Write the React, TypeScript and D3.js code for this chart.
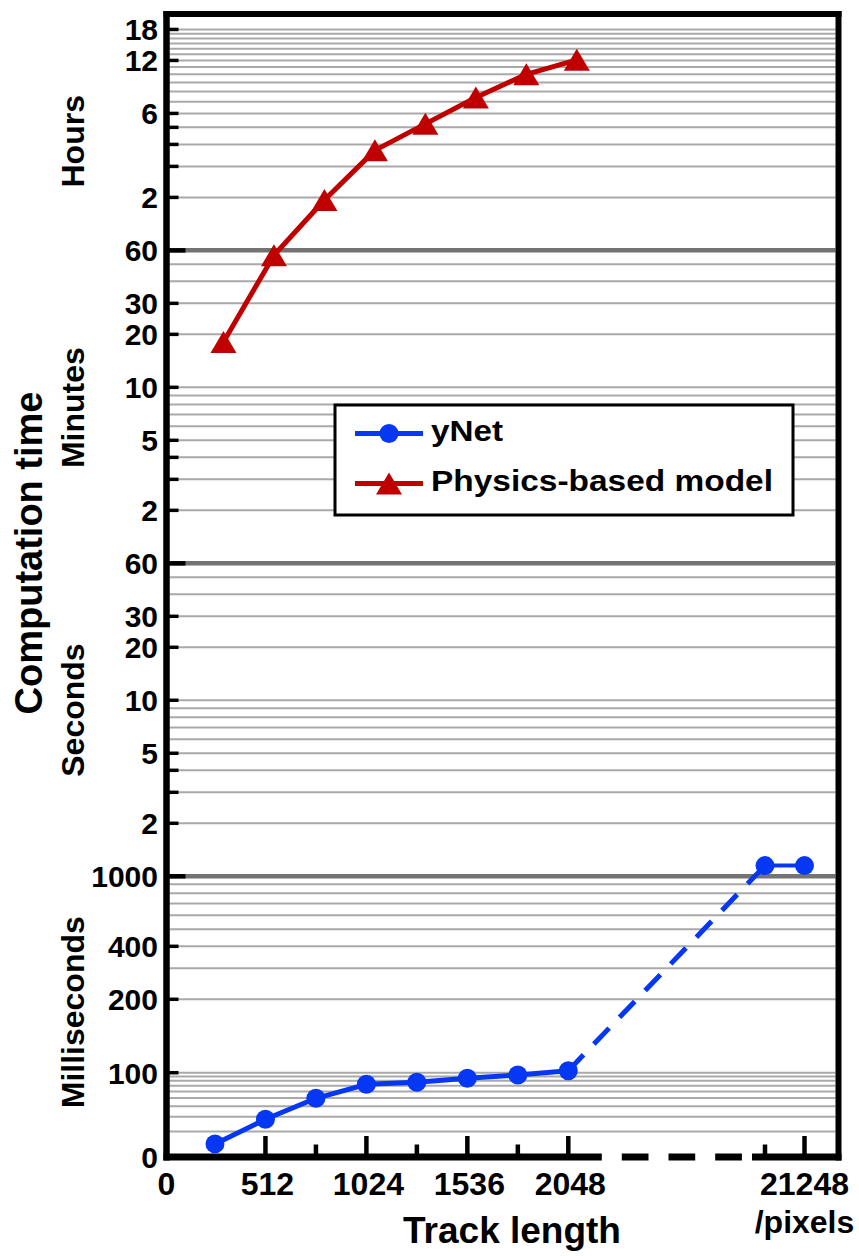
import React from "react";
import * as d3 from "d3";

// track length (pixels)
const trackLengths = [256, 512, 768, 1024, 1280, 1536, 1792, 2048];
const longTracks = [20992, 21248];

// yNet computation time, milliseconds
const ynetMs = [14.3, 28, 49.7, 72.8, 76.9, 85.9, 93.9, 101.9];
const ynetLongMs = [1150, 1150];

// physics-based model computation time, minutes
const physicsMin = [18.1, 56.3, 116, 222, 314, 443, 600, 726];

// x axis ticks
const xMajor = [512, 1024, 1536, 2048];
const xMinor = [768, 1280, 1792];
const xRightMajor = [21248];
const xRightMinor = [20992];
const xLabels = ["0", "512", "1024", "1536", "2048"];
const xLabelValues = [0, 512, 1024, 1536, 2048];

// y axis: grid, ticks and labels per unit
const msGrid = [20, 30, 40, 50, 60, 70, 80, 90, 100, 200, 300, 400, 500, 600, 700, 800, 900];
const msTicks = [100, 200, 400];
const msLabelValues = [10, 100, 200, 400];
const msLabelText = ["0", "100", "200", "400"];

const secGrid = [2, 3, 4, 5, 6, 7, 8, 9, 10, 20, 30, 40, 50];
const secTicks = [2, 3, 4, 5, 10, 20, 30];
const secLabels = [2, 5, 10, 20, 30];

const minGrid = [2, 3, 4, 5, 6, 7, 8, 9, 10, 20, 30, 40, 50];
const minTicks = [2, 3, 4, 5, 10, 20, 30];
const minLabels = [2, 5, 10, 20, 30];

const hourGrid = [2, 3, 4, 5, 6, 7, 8, 9, 10, 11, 12, 13, 14, 15, 16, 17, 18];
const hourTicks = [2, 3, 4, 5, 6, 12, 18];
const hourLabels = [2, 6, 12, 18];

// unit boundaries (ms) with their labels
const boundaryMs = [1000, 60000, 3600000];
const boundaryText = ["1000", "60", "60"];

const unitNames = ["Hours", "Minutes", "Seconds", "Milliseconds"];
const unitCenterMs = [15000000, 460000, 8800, 177];

const BLUE = "#0637f5";
const RED = "#c00000";
const FONT = "'Liberation Sans', Arial, Helvetica, sans-serif";

export default function App() {
  const W = 859;
  const H = 1256;
  const axisX = 166.5;
  const bottomY = 1157;
  const topY = 14;
  const rightX = 838.5;
  const pxDecade = 176;
  const y100 = bottomY - 84.3;
  const y200 = y100 - 73.4;
  const topMs = 200 * Math.pow(10, (y200 - topY) / pxDecade);

  const y = d3.scaleLog().domain([10, 100, 200, topMs]).range([bottomY, y100, y200, topY]);
  const xL = d3.scaleLinear().domain([0, 2048]).range([164.5, 568.3]);
  const xR = d3.scaleLinear().domain([20992, 21248]).range([765, 804.5]);
  const redShift = 8.5;

  const gridLeft = axisX + 3;
  const gridRight = rightX - 3;

  const allGrid = [
    ...msGrid,
    ...secGrid.map((d) => d * 1000),
    ...minGrid.map((d) => d * 60000),
    ...hourGrid.map((d) => d * 3600000),
  ];
  const allTicks = [
    ...msTicks,
    ...secTicks.map((d) => d * 1000),
    ...minTicks.map((d) => d * 60000),
    ...hourTicks.map((d) => d * 3600000),
  ];
  const labels: [number, string][] = [
    ...msLabelValues.map((v, i) => [v, msLabelText[i]] as [number, string]),
    ...secLabels.map((d) => [d * 1000, String(d)] as [number, string]),
    ...minLabels.map((d) => [d * 60000, String(d)] as [number, string]),
    ...hourLabels.map((d) => [d * 3600000, String(d)] as [number, string]),
    ...boundaryMs.map((v, i) => [v, boundaryText[i]] as [number, string]),
  ];

  const line = d3
    .line<[number, number]>()
    .x((d) => d[0])
    .y((d) => d[1]);

  const bluePts: [number, number][] = trackLengths.map((t, i) => [xL(t), y(ynetMs[i])]);
  const blueLongPts: [number, number][] = longTracks.map((t, i) => [xR(t), y(ynetLongMs[i])]);
  const redPts: [number, number][] = trackLengths.map((t, i) => [
    xL(t) + redShift,
    y(physicsMin[i] * 60000),
  ]);

  const tri = (cx: number, cy: number, w = 26, h = 22) =>
    `M${cx},${cy - h / 2}L${cx + w / 2},${cy + h / 2}L${cx - w / 2},${cy + h / 2}Z`;

  const brokenStart = xL(2048) + 33.5;
  const brokenEnd = xR(20992) - 13;

  return (
    <svg
      width={W}
      height={H}
      style={{ position: "absolute", left: 0, top: 0, background: "#fff" }}
      fontFamily={FONT}
      fontWeight="bold"
    >
      {/* grid */}
      {allGrid.map((v) => (
        <line key={"g" + v} x1={gridLeft} x2={gridRight} y1={y(v)} y2={y(v)} stroke="#a9a9a9" strokeWidth={2} />
      ))}
      {boundaryMs.map((v) => (
        <line key={"b" + v} x1={gridLeft} x2={gridRight} y1={y(v)} y2={y(v)} stroke="#737373" strokeWidth={4.5} />
      ))}

      {/* y ticks */}
      {allTicks.map((v) => (
        <line key={"t" + v} x1={axisX} x2={axisX + 12} y1={y(v)} y2={y(v)} stroke="#000" strokeWidth={3.5} />
      ))}
      {boundaryMs.map((v) => (
        <line key={"bt" + v} x1={axisX} x2={axisX + 19} y1={y(v)} y2={y(v)} stroke="#000" strokeWidth={4.5} />
      ))}

      {/* y labels */}
      {labels.map(([v, t]) => (
        <text key={"l" + v} x={158} y={y(v)} dy="0.36em" textAnchor="end" fontSize={30}>
          {t}
        </text>
      ))}

      {/* frame */}
      <line x1={axisX} x2={axisX} y1={topY - 3} y2={bottomY + 3.5} stroke="#000" strokeWidth={6.5} />
      <line x1={axisX - 3} x2={rightX + 3} y1={topY} y2={topY} stroke="#000" strokeWidth={6} />
      <line x1={rightX} x2={rightX} y1={topY - 3} y2={bottomY + 3.5} stroke="#000" strokeWidth={6} />
      <line x1={axisX - 3} x2={brokenStart} y1={bottomY} y2={bottomY} stroke="#000" strokeWidth={7} />
      <line
        x1={brokenStart + 20}
        x2={brokenEnd - 10}
        y1={bottomY}
        y2={bottomY}
        stroke="#000"
        strokeWidth={7}
        strokeDasharray="26.7 20"
      />
      <line x1={brokenEnd} x2={rightX + 3} y1={bottomY} y2={bottomY} stroke="#000" strokeWidth={7} />

      {/* x ticks */}
      {xMajor.map((v) => (
        <line key={"xm" + v} x1={xL(v)} x2={xL(v)} y1={bottomY} y2={bottomY - 21} stroke="#000" strokeWidth={4.5} />
      ))}
      {xMinor.map((v) => (
        <line key={"xn" + v} x1={xL(v)} x2={xL(v)} y1={bottomY} y2={bottomY - 12.5} stroke="#000" strokeWidth={4.5} />
      ))}
      {xRightMajor.map((v) => (
        <line key={"xrm" + v} x1={xR(v)} x2={xR(v)} y1={bottomY} y2={bottomY - 21} stroke="#000" strokeWidth={4.5} />
      ))}
      {xRightMinor.map((v) => (
        <line key={"xrn" + v} x1={xR(v)} x2={xR(v)} y1={bottomY} y2={bottomY - 12.5} stroke="#000" strokeWidth={4.5} />
      ))}

      {/* x labels */}
      {xLabelValues.map((v, i) => (
        <text key={"xl" + v} x={xL(v) + 2} y={1195} textAnchor="middle" fontSize={32}>
          {xLabels[i]}
        </text>
      ))}
      <text x={xR(21248)} y={1195} textAnchor="middle" fontSize={32}>
        21248
      </text>
      <text x={xR(21248)} y={1233} textAnchor="middle" fontSize={32}>
        /pixels
      </text>

      {/* axis titles */}
      <text x={512} y={1243} textAnchor="middle" fontSize={37}>
        Track length
      </text>
      <text transform={`translate(42,553) rotate(-90)`} textAnchor="middle" fontSize={38}>
        Computation time
      </text>
      {unitNames.map((n, i) => (
        <text key={n} transform={`translate(83.5,${y(unitCenterMs[i])}) rotate(-90)`} textAnchor="middle" fontSize={32}>
          {n}
        </text>
      ))}

      {/* physics-based model */}
      <path d={line(redPts) || ""} fill="none" stroke={RED} strokeWidth={5} strokeLinejoin="round" />
      {redPts.map((p, i) => (
        <path key={"r" + i} d={tri(p[0], p[1])} fill={RED} />
      ))}

      {/* yNet */}
      <path d={line(bluePts) || ""} fill="none" stroke={BLUE} strokeWidth={5} strokeLinejoin="round" />
      <path
        d={line([bluePts[bluePts.length - 1], blueLongPts[0]]) || ""}
        fill="none"
        stroke={BLUE}
        strokeWidth={5}
        strokeDasharray="22 15"
      />
      <path d={line(blueLongPts) || ""} fill="none" stroke={BLUE} strokeWidth={4} />
      {[...bluePts, ...blueLongPts].map((p, i) => (
        <circle key={"c" + i} cx={p[0]} cy={p[1]} r={9.5} fill={BLUE} />
      ))}

      {/* legend */}
      <rect x={335} y={405} width={458} height={110} fill="#fff" stroke="#000" strokeWidth={3} />
      <line x1={355} x2={423} y1={433.5} y2={433.5} stroke={BLUE} strokeWidth={5} />
      <circle cx={389} cy={433.5} r={9.5} fill={BLUE} />
      <text x={431} y={441} fontSize={30} textLength={72} lengthAdjust="spacingAndGlyphs">
        yNet
      </text>
      <line x1={355} x2={423} y1={483.5} y2={483.5} stroke={RED} strokeWidth={5} />
      <path d={tri(389, 483.5)} fill={RED} />
      <text x={431} y={491} fontSize={30} textLength={342} lengthAdjust="spacingAndGlyphs">
        Physics-based model
      </text>
    </svg>
  );
}
